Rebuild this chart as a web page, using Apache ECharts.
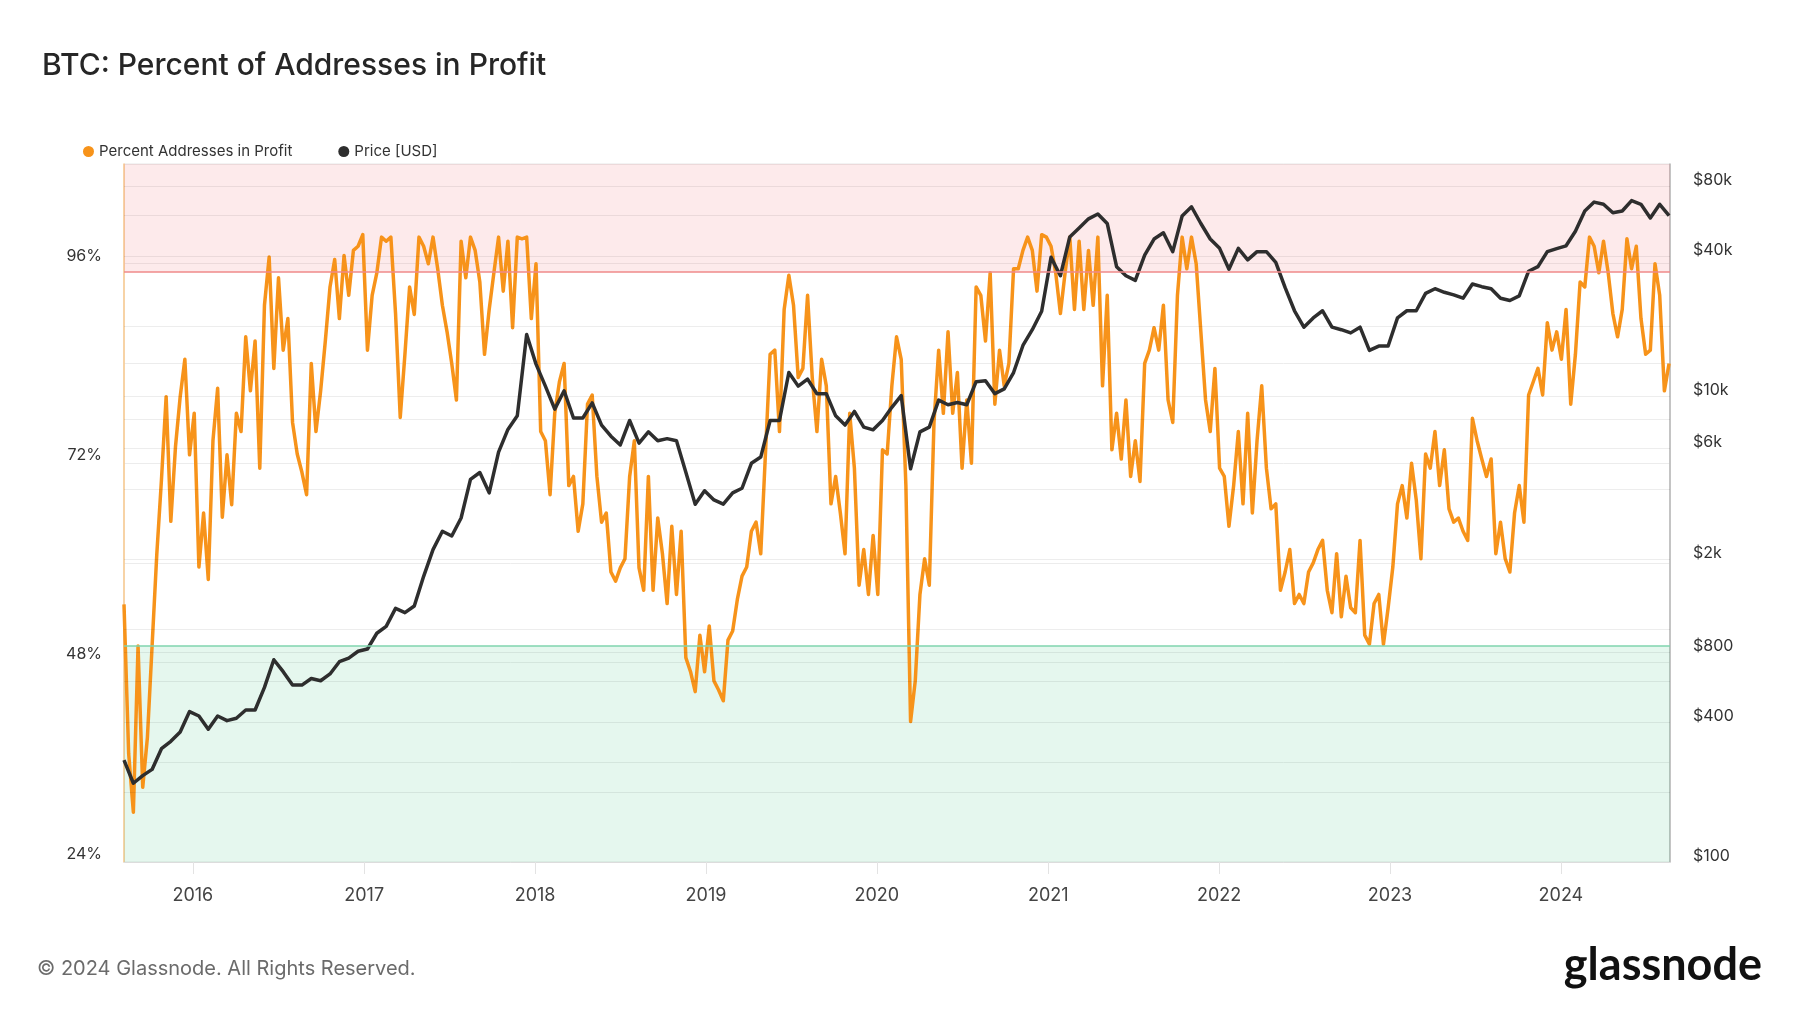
<!DOCTYPE html>
<html><head><meta charset="utf-8">
<script src="https://cdn.jsdelivr.net/npm/echarts@6/dist/echarts.min.js"></script>
<style>html,body{margin:0;padding:0;background:#fff}#c{width:1800px;height:1013px}</style>
</head><body><div id="c"></div>
<script>
// ---- data ----
const startDate = [2015, 7, 7];          // first sample (UTC y, m0, d)
const endDate = [2024, 7, 21];           // right edge of the time axis
const pctStepDays = 10;
const priceStepDays = 20;

const pctValues = [
 55,37,30,50,33,39,50,61,70,80,
 65,74,80,84.5,73,78,59.5,66,58,74.7,
 81,65.5,73,67,78,75.8,87.2,80.7,86.7,71.4,
 91,96.8,83.4,94.3,85.6,89.4,76.9,73.1,70.9,68.2,
 84,75.8,80.7,86.7,93.2,96.5,89.4,97,92.2,97.6,
 98.1,99.5,85.6,92.2,94.9,99.2,
 98.7,99.2,90,77.5,85.1,93.2,89.9,99.2,98.1,96,
 99.2,95.4,91,87.8,84,79.6,98.7,94.3,99.2,97.6,
 93.8,85.1,90.5,94.9,99.2,92.7,98.7,88.3,99.2,99,
 99.2,89.4,96,75.8,74.7,68.2,78,81.8,84,69.3,
 70.4,63.8,67.1,79.1,80.2,70.4,64.9,66,58.9,57.8,
 59.4,60.5,70.4,74.7,59.4,
 56.7,70.4,56.7,65.4,61.1,55.1,64.4,56.2,63.8,48.6,
 46.9,44.5,51.3,46.9,52.4,45.8,44.7,43.4,50.7,51.8,
 55.6,58.4,59.5,63.8,64.9,61.1,73.1,85.1,85.6,75.8,
 90.5,94.6,91,82.3,83.4,92.2,82.3,75.8,84.5,81.3,
 67.1,70.4,66,61.1,78,71.4,57.3,61.6,56.2,63.3,
 56.2,73.6,73.1,81.3,87.2,
 84.5,69.3,40.9,45.8,56.2,60.5,57.3,76.9,85.6,78,
 87.8,78,82.9,71.4,79.6,72,93.2,92.2,86.7,94.9,
 79.1,85.6,81.3,84,95.4,95.4,97.6,99.2,97.6,92.7,
 99.5,99.2,98.1,94.9,90,94.9,99.2,90.5,98.7,90.5,
 97.6,91,99.2,81.3,92.2,73.6,78,72.5,79.6,70.4,
 74.7,69.8,84,85.6,88.3,
 85.6,91,79.6,76.9,92.2,99.2,95.4,99.2,96,87.8,
 79.6,75.8,83.4,71.4,70.4,64.4,69.3,75.8,67.1,78,
 66,74.7,81.3,71.4,66.5,67.1,56.7,58.9,61.6,55.1,
 56.2,55.1,58.9,60,61.6,62.7,56.7,54,61.1,53.5,
 58.4,54.6,54,62.7,51.3,50.2,55.1,56.2,50.2,54.6,
 59.5,67.1,69.3,65.4,72,
 67.6,60.5,73.1,71.4,75.8,69.3,73.6,66.5,64.9,65.4,
 63.8,62.7,77.4,74.7,72.5,70.4,72.5,61.1,64.9,60.5,
 58.9,66,69.3,64.9,80.2,81.8,83.4,80.2,88.9,85.6,
 87.8,84.5,90.5,79.1,85.1,93.8,93.2,99.2,98.1,94.9,
 98.7,94.9,90,87.2,90.5,99,95.4,98.1,89.4,85.1,
 85.6,96,92.2,80.7,84
];

const priceValues = [
 274,218,235,250,307,330,362,443,424,372,
 424,405,415,450,450,563,740,658,576,576,
 615,601,643,726,752,805,823,962,
 1030,1230,1180,1260,1690,2200,2640,2520,3010,4410,
 4720,3860,5780,7230,8270,18500,13800,11100,8840,10600,
 8100,8100,9400,7550,6760,6200,7900,6310,
 7060,6460,6600,6460,4730,3450,3940,3600,3450,3860,
 4040,5170,5500,7900,7900,12700,11100,11900,10300,10300,
 8270,7550,8640,7400,7200,7900,9000,
 10100,4900,7060,7400,9660,9230,9440,9230,11600,11700,
 10300,10800,12700,16600,19400,23300,39700,33100,48600,53100,
 58100,61000,55500,36200,33100,31600,40600,47600,
 50600,42000,59800,65500,55500,47600,43400,35300,43400,38700,
 42000,42000,37800,29400,23400,19900,21800,23400,19900,19400,
 18800,19900,15800,16500,16500,21800,23400,
 23400,27800,29100,28100,27400,26500,30500,29700,29100,26500,
 25900,27100,34600,36200,42000,43300,44500,51400,62800,68600,
 67100,61700,62800,69600,67100,58600,67100,60000
];

const yearTicks = [2016,2017,2018,2019,2020,2021,2022,2023,2024];
const pctLabelTicks = [24,48,72,96];
const priceLabelTicks = [100,400,800,2000,6000,10000,40000,80000];
const priceGridValues = [200,400,600,800,1000,2000,4000,6000,8000,10000,20000,40000,60000,80000];
const upperBand = [95,108];
const lowerBand = [24,50];

// ---- build ----
const DAY = 86400000;
const t0 = Date.UTC(startDate[0], startDate[1], startDate[2]);
const tEnd = Date.UTC(endDate[0], endDate[1], endDate[2]);
const pctData = pctValues.map((v,i)=>[t0 + i*pctStepDays*DAY, v]);
const priceData = priceValues.map((v,i)=>[t0 + i*priceStepDays*DAY, v]);
const yearTs = yearTicks.map(y=>Date.UTC(y,0,1));

const FONT = 'Inter';
const chart = echarts.init(document.getElementById('c'), null, {renderer:'canvas'});
chart.setOption({
  backgroundColor:'#fff',
  animation:false,
  textStyle:{fontFamily:FONT},
  title:{text:'BTC: Percent of Addresses in Profit', left:37, top:46,
    textStyle:{fontFamily:FONT, fontSize:30, fontWeight:500, color:'#262626'}},
  legend:{data:['Percent Addresses in Profit','Price [USD]'], left:78, top:139, icon:'circle',
    itemWidth:11, itemHeight:11, itemGap:46,
    textStyle:{fontFamily:FONT, fontSize:15, color:'#333'}},
  grid:{left:124, right:130, top:164, bottom:151, show:true, borderColor:'#e6e6e6', borderWidth:1, backgroundColor:'transparent'},
  xAxis:{type:'value', min:t0, max:tEnd, scale:true,
    axisLine:{show:true, lineStyle:{color:'#dcdcdc'}},
    axisTick:{show:true, customValues:yearTs, length:12, lineStyle:{color:'#e3e3e3'}},
    splitLine:{show:false},
    axisLabel:{customValues:yearTs, margin:25, fontSize:18, color:'#444', fontFamily:FONT,
      formatter:v=>String(new Date(v).getUTCFullYear())}},
  yAxis:[
    {type:'value', min:24, max:108, interval:12, position:'left',
      axisLine:{show:true, lineStyle:{color:'#f9c98c', width:1.5}},
      axisTick:{show:false},
      splitLine:{show:true, lineStyle:{color:'#ececec'}},
      axisLabel:{customValues:pctLabelTicks, margin:22, fontSize:16, color:'#333', fontFamily:FONT,
        verticalAlign:'bottom', formatter:v=>v+'%'}},
    {type:'log', logBase:10, min:100, max:100000, position:'right',
      axisLine:{show:true, lineStyle:{color:'#b5b5b5', width:1.5}},
      axisTick:{show:false},
      splitLine:{show:false},
      axisLabel:{customValues:priceLabelTicks, margin:23, fontSize:16, color:'#333', fontFamily:FONT,
        verticalAlign:'bottom', align:'left', padding:[0,0,-2,0],
        formatter:v=>'$'+(v>=1000 ? (v/1000)+'k' : v)}}
  ],
  series:[
    {name:'bands', type:'line', yAxisIndex:0, data:[], z:1, silent:true,
      markArea:{silent:true, data:[
        [{yAxis:upperBand[0], itemStyle:{color:'rgba(235,60,70,0.11)'}},{yAxis:upperBand[1]}],
        [{yAxis:lowerBand[0], itemStyle:{color:'rgba(20,180,100,0.11)'}},{yAxis:lowerBand[1]}]
      ]},
      markLine:{silent:true, symbol:'none', label:{show:false}, data:[
        {yAxis:upperBand[0], lineStyle:{color:'#ef8a8a', width:1.5, type:'solid'}},
        {yAxis:lowerBand[1], lineStyle:{color:'#7fd4ae', width:1.5, type:'solid'}}
      ]}},
    {name:'priceGrid', type:'line', yAxisIndex:1, data:[], z:1, silent:true,
      markLine:{silent:true, symbol:'none', label:{show:false},
        lineStyle:{color:'rgba(0,0,0,0.07)', width:1, type:'solid'},
        data:priceGridValues.map(v=>({yAxis:v}))}},
    {name:'Percent Addresses in Profit', type:'line', yAxisIndex:0, data:pctData, z:3,
      showSymbol:false, symbol:'circle', color:'#f7931a',
      lineStyle:{color:'#f7931a', width:3.5, join:'round'}},
    {name:'Price [USD]', type:'line', yAxisIndex:1, data:priceData, z:4,
      showSymbol:false, symbol:'circle', color:'#2e2e2e',
      lineStyle:{color:'#2e2e2e', width:3.5, join:'round'}}
  ],
  graphic:[
    {type:'text', left:37, top:959, style:{text:'© 2024 Glassnode. All Rights Reserved.', fontFamily:FONT, fontSize:20, fill:'#6b6b6b'}},
    {type:'text', right:38, top:943, style:{text:'glassnode', fontFamily:'Lato', fontSize:45, fontWeight:'bold', fill:'#111'}}
  ]
});
</script></body></html>
